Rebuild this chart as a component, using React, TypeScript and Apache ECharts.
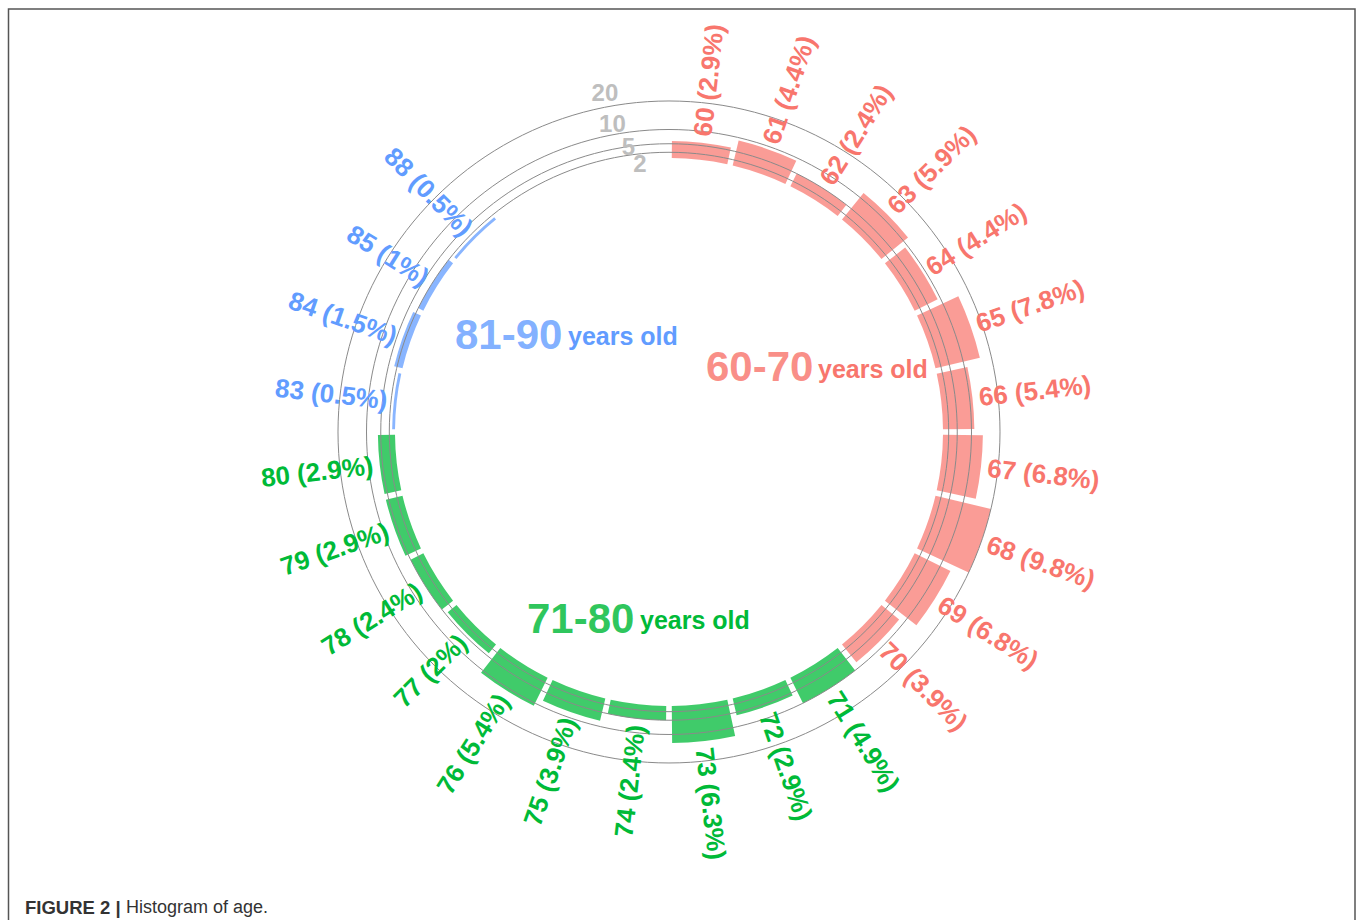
import React, { useEffect, useRef } from "react";
import * as echarts from "echarts";

// ---------- data ----------
const ages = ["60", "61", "62", "63", "64", "65", "66", "67", "68", "69", "70",
  "71", "72", "73", "74", "75", "76", "77", "78", "79", "80",
  "83", "84", "85", "88"];
const counts = [6, 9, 5, 12, 9, 16, 11, 14, 20, 14, 8,
  10, 6, 13, 5, 8, 11, 4, 5, 6, 6,
  1, 3, 2, 1];
const percents = ["2.9", "4.4", "2.4", "5.9", "4.4", "7.8", "5.4", "6.8", "9.8", "6.8", "3.9",
  "4.9", "2.9", "6.3", "2.4", "3.9", "5.4", "2", "2.4", "2.9", "2.9",
  "0.5", "1.5", "1", "0.5"];
const groupOf = [0, 0, 0, 0, 0, 0, 0, 0, 0, 0, 0,
  1, 1, 1, 1, 1, 1, 1, 1, 1, 1,
  2, 2, 2, 2];
const groupNames = ["60-70", "71-80", "81-90"];
const emptySlots = ["_e1", "_e2", "_e3"];
const gridValues = [2, 5, 10, 20];
const gridLabels = ["2", "5", "10", "20"];

// ---------- styles / layout ----------
const FONT = '"Liberation Sans", Arial, Helvetica, sans-serif';
const TEXT_COLORS = ["#F8766D", "#00BA38", "#619CFF"];
const BAR_COLORS = ["rgba(248,118,109,0.72)", "rgba(0,186,56,0.75)", "rgba(97,156,255,0.75)"];
const BIG_COLORS = ["rgba(248,118,109,0.82)", "rgba(0,186,56,0.82)", "rgba(97,156,255,0.8)"];
const CENTER = [669, 432];
const RADIUS = [274, 331];
const LABEL_GAP = 2.3; // in data units beyond bar end
const GRID_LABEL_LAYOUT = [
  { dr: -10, deg: -6.2 },
  { dr: 0.5, deg: -8.1 },
  { dr: 11, deg: -10.4 },
  { dr: 14, deg: -10.7 },
];
const GROUP_TEXT_POS = [
  { x: 706, y: 366, x2: 818, y2: 369 },
  { x: 527, y: 618, x2: 640, y2: 620 },
  { x: 455, y: 334, x2: 568, y2: 336 },
];

export default function App() {
  const ref = useRef<HTMLDivElement>(null);

  useEffect(() => {
    if (!ref.current) return;
    const chart = echarts.init(ref.current, undefined, { renderer: "svg" });

    const categories = [...ages, ...emptySlots];

    const groupGraphics: any[] = [];
    groupNames.forEach((g, k) => {
      const p = GROUP_TEXT_POS[k];
      groupGraphics.push({
        type: "text",
        x: p.x,
        y: p.y,
        style: {
          text: g,
          fill: BIG_COLORS[k],
          font: `bold 42px ${FONT}`,
          align: "left",
          verticalAlign: "middle",
        },
      });
      groupGraphics.push({
        type: "text",
        x: p.x2,
        y: p.y2,
        style: {
          text: "years old",
          fill: TEXT_COLORS[k],
          font: `bold 25px ${FONT}`,
          align: "left",
          verticalAlign: "middle",
        },
      });
    });

    const option: any = {
      animation: false,
      backgroundColor: "#ffffff",
      polar: { center: CENTER, radius: RADIUS },
      angleAxis: {
        type: "category",
        data: categories,
        startAngle: 90,
        clockwise: true,
        axisLine: { show: false },
        axisTick: { show: false },
        axisLabel: { show: false },
        splitLine: { show: false },
      },
      radiusAxis: {
        type: "value",
        min: 0,
        max: 20,
        axisLine: { show: false },
        axisTick: { show: false },
        axisLabel: { show: false },
        splitLine: { show: false },
      },
      graphic: [
        {
          type: "rect",
          shape: { x: 8.5, y: 9, width: 1346.5, height: 1000 },
          style: { fill: "none", stroke: "#555555", lineWidth: 1.5 },
          silent: true,
        },
        {
          type: "text",
          x: 25,
          y: 907,
          style: {
            text: "FIGURE 2 |",
            fill: "#333333",
            font: `bold 18.5px ${FONT}`,
            align: "left",
            verticalAlign: "middle",
          },
        },
        {
          type: "text",
          x: 126,
          y: 907,
          style: {
            text: "Histogram of age.",
            fill: "#333333",
            font: `18px ${FONT}`,
            align: "left",
            verticalAlign: "middle",
          },
        },
        ...groupGraphics,
      ],
      series: [
        {
          type: "bar",
          coordinateSystem: "polar",
          barCategoryGap: "9%",
          z: 2,
          data: counts.map((c, i) => ({
            value: c,
            itemStyle: { color: BAR_COLORS[groupOf[i]] },
          })),
        },
        {
          type: "custom",
          coordinateSystem: "polar",
          z: 3,
          silent: true,
          data: [[0, 0]],
          renderItem: (params: any, api: any) => {
            const cs = params.coordSys;
            const children: any[] = [];
            gridValues.forEach((g, k) => {
              const p = api.coord([g, 0]);
              const r = Math.hypot(p[0] - cs.cx, p[1] - cs.cy);
              children.push({
                type: "circle",
                shape: { cx: cs.cx, cy: cs.cy, r },
                style: { fill: "none", stroke: "#8a8a8a", lineWidth: 1 },
              });
              const lay = GRID_LABEL_LAYOUT[k];
              const rr = r + lay.dr;
              const a = (lay.deg * Math.PI) / 180;
              children.push({
                type: "text",
                x: cs.cx + rr * Math.sin(a),
                y: cs.cy - rr * Math.cos(a),
                style: {
                  text: gridLabels[k],
                  fill: "#BEBEBE",
                  font: `bold 24px ${FONT}`,
                  align: "center",
                  verticalAlign: "middle",
                },
              });
            });
            return { type: "group", children };
          },
        },
        {
          type: "custom",
          coordinateSystem: "polar",
          z: 4,
          silent: true,
          encode: { radius: 0, angle: 1 },
          data: counts.map((c, i) => [c, i]),
          renderItem: (params: any, api: any) => {
            const cs = params.coordSys;
            const i = params.dataIndex;
            const v = api.value(0);
            const pt = api.coord([v + LABEL_GAP, api.value(1)]);
            const dx = pt[0] - cs.cx;
            const dy = pt[1] - cs.cy;
            let rot = Math.atan2(-dy, dx);
            let align = "left";
            if (dx < 0) {
              rot += Math.PI;
              align = "right";
            }
            return {
              type: "text",
              x: pt[0],
              y: pt[1],
              rotation: rot,
              style: {
                text: `${ages[i]} (${percents[i]}%)`,
                fill: TEXT_COLORS[groupOf[i]],
                font: `bold 26px ${FONT}`,
                align,
                verticalAlign: "middle",
              },
            };
          },
        },
      ],
    };

    chart.setOption(option);
    return () => chart.dispose();
  }, []);

  return (
    <div
      ref={ref}
      style={{ position: "absolute", left: 0, top: 0, width: 1358, height: 920 }}
    />
  );
}
